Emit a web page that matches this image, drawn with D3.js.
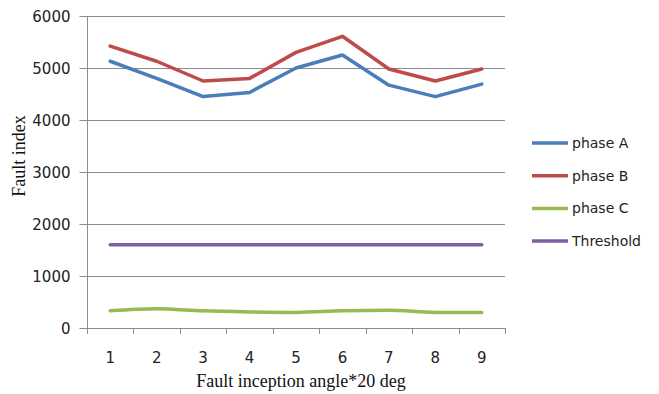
<!DOCTYPE html>
<html>
<head>
<meta charset="utf-8">
<script src="https://cdn.jsdelivr.net/npm/d3@7"></script>
<style>
  body { margin: 0; background: #fff; }
  svg { display: block; }
</style>
</head>
<body>
<div id="chart"></div>
<script>
const angles = [1, 2, 3, 4, 5, 6, 7, 8, 9];
const phaseA = [5130, 4800, 4450, 4530, 5000, 5250, 4670, 4450, 4690];
const phaseB = [5420, 5130, 4750, 4800, 5300, 5610, 4980, 4750, 4980];
const phaseC = [330, 370, 330, 310, 300, 330, 340, 300, 300];
const threshold = [1600, 1600, 1600, 1600, 1600, 1600, 1600, 1600, 1600];
const yTicks = [0, 1000, 2000, 3000, 4000, 5000, 6000];

const series = [
    { name: "phase A", values: phaseA, color: "#4a7ebb", smooth: false },
    { name: "phase B", values: phaseB, color: "#be4b48", smooth: false },
    { name: "phase C", values: phaseC, color: "#98b954", smooth: true },
    { name: "Threshold", values: threshold, color: "#7d60a0", smooth: false }
];

const W = 659, H = 394;
const plot = { left: 87, top: 16, right: 505, bottom: 328 };

const svg = d3.select("#chart").append("svg")
    .attr("width", W)
    .attr("height", H);

const x = d3.scaleBand()
    .domain(angles)
    .range([plot.left, plot.right]);

const y = d3.scaleLinear()
    .domain([0, 6000])
    .range([plot.bottom, plot.top]);

const gridColor = "#8c8c8c";

// horizontal gridlines
svg.append("g")
    .selectAll("line")
    .data(yTicks.filter(d => d > 0))
    .enter()
    .append("line")
    .attr("x1", plot.left)
    .attr("x2", plot.right)
    .attr("y1", d => Math.round(y(d)) + 0.5)
    .attr("y2", d => Math.round(y(d)) + 0.5)
    .attr("stroke", gridColor)
    .attr("stroke-width", 1);

// y axis
const yAxis = svg.append("g")
    .attr("transform", `translate(${plot.left + 0.5},0.5)`)
    .call(d3.axisLeft(y).tickValues(yTicks).tickSize(8).tickPadding(9).tickFormat(d3.format("d")));
yAxis.select(".domain").attr("stroke", gridColor).attr("d", `M-0,${plot.bottom}V${plot.top}`);
yAxis.selectAll(".tick line").attr("stroke", gridColor).attr("transform", "translate(0,-0.5)");
yAxis.selectAll(".tick text")
    .style("font-family", "'DejaVu Sans', sans-serif")
    .style("font-size", "15px")
    .attr("fill", "#222");

// x axis: ticks on band edges, labels on band centers
const edges = angles.map(d => x(d)).concat([plot.right]);
const xg = svg.append("g");
xg.append("line")
    .attr("x1", plot.left)
    .attr("x2", plot.right + 0.5)
    .attr("y1", plot.bottom + 0.5)
    .attr("y2", plot.bottom + 0.5)
    .attr("stroke", gridColor);
xg.selectAll(".edge")
    .data(edges)
    .enter()
    .append("line")
    .attr("class", "edge")
    .attr("x1", d => Math.round(d) + 0.5)
    .attr("x2", d => Math.round(d) + 0.5)
    .attr("y1", plot.bottom)
    .attr("y2", plot.bottom + 6)
    .attr("stroke", gridColor);
xg.selectAll(".lbl")
    .data(angles)
    .enter()
    .append("text")
    .attr("class", "lbl")
    .attr("x", d => x(d) + x.bandwidth() / 2)
    .attr("y", 363)
    .attr("text-anchor", "middle")
    .style("font-family", "'DejaVu Sans', sans-serif")
    .style("font-size", "15px")
    .attr("fill", "#222")
    .text(d => d);

// axis titles
svg.append("text")
    .attr("x", 301)
    .attr("y", 387)
    .attr("text-anchor", "middle")
    .style("font-family", "'Liberation Serif', serif")
    .style("font-size", "18px")
    .attr("fill", "#111")
    .text("Fault inception angle*20 deg");

svg.append("text")
    .attr("transform", "translate(25,156) rotate(-90)")
    .attr("text-anchor", "middle")
    .style("font-family", "'Liberation Serif', serif")
    .style("font-size", "18px")
    .attr("fill", "#111")
    .text("Fault index");

// series lines
series.forEach(s => {
    const line = d3.line()
        .x((d, i) => x(angles[i]) + x.bandwidth() / 2)
        .y(d => y(d))
        .curve(s.smooth ? d3.curveMonotoneX : d3.curveLinear);
    svg.append("path")
        .datum(s.values)
        .attr("fill", "none")
        .attr("stroke", s.color)
        .attr("stroke-width", 3.5)
        .attr("stroke-linejoin", "round")
        .attr("stroke-linecap", "round")
        .attr("d", line);
});

// legend
const legend = svg.append("g")
    .selectAll("g")
    .data(series)
    .enter()
    .append("g")
    .attr("transform", (d, i) => `translate(532,${143 + i * 32.7})`);
legend.append("line")
    .attr("x1", 0)
    .attr("x2", 36)
    .attr("stroke", d => d.color)
    .attr("stroke-width", 3.5);
legend.append("text")
    .attr("x", 40)
    .attr("y", 5)
    .style("font-family", "'DejaVu Sans', sans-serif")
    .style("font-size", "14px")
    .attr("fill", "#222")
    .text(d => d.name);
</script>
</body>
</html>
